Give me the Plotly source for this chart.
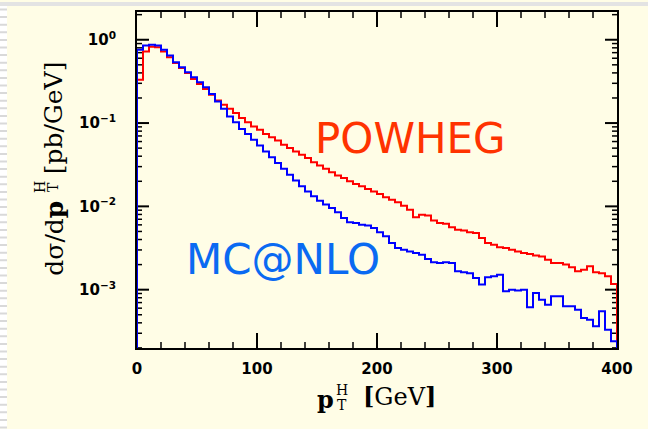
import math
import plotly.graph_objects as go

# Higgs transverse-momentum spectrum, 5 GeV bins from 0 to 400 GeV
bin_edges = [5 * i for i in range(81)]

powheg = [
    0.331, 0.724, 0.822, 0.813, 0.724, 0.617, 0.525, 0.457, 0.398, 0.339,
    0.295, 0.257, 0.219, 0.186, 0.166, 0.148, 0.132, 0.115, 0.102, 0.0912,
    0.0832, 0.0741, 0.0676, 0.0617, 0.0550, 0.0501, 0.0457, 0.0417, 0.0380, 0.0339,
    0.0309, 0.0282, 0.0257, 0.0234, 0.0219, 0.0200, 0.0186, 0.0174, 0.0162, 0.0151,
    0.0141, 0.0129, 0.0120, 0.0112, 0.0102, 0.00912, 0.00741, 0.00794, 0.00776, 0.00676,
    0.00631, 0.00617, 0.00562, 0.00525, 0.00513, 0.00490, 0.00479, 0.00417, 0.00363, 0.00347,
    0.00324, 0.00316, 0.00302, 0.00288, 0.00275, 0.00269, 0.00257, 0.00251, 0.00229, 0.00209,
    0.00209, 0.00200, 0.00186, 0.00166, 0.00174, 0.00191, 0.00162, 0.00158, 0.00145, 0.00117,
]

mcatnlo = [
    0.759, 0.851, 0.871, 0.851, 0.759, 0.646, 0.537, 0.468, 0.407, 0.355,
    0.309, 0.269, 0.224, 0.182, 0.148, 0.120, 0.102, 0.0851, 0.0741, 0.0631,
    0.0537, 0.0457, 0.0389, 0.0331, 0.0282, 0.0240, 0.0204, 0.0174, 0.0151, 0.0132,
    0.0117, 0.0105, 0.00955, 0.00851, 0.00724, 0.00646, 0.00631, 0.00603, 0.00589, 0.00550,
    0.00490, 0.00437, 0.00363, 0.00316, 0.00302, 0.00288, 0.00275, 0.00263, 0.00234, 0.00214,
    0.00209, 0.00214, 0.00209, 0.00166, 0.00162, 0.00158, 0.00138, 0.00115, 0.00141, 0.00145,
    0.00151, 0.000955, 0.00100, 0.000977, 0.00100, 0.000617, 0.000912, 0.000759, 0.000661, 0.000832,
    0.000832, 0.000631, 0.000631, 0.000575, 0.000457, 0.000437, 0.000363, 0.000550, 0.000331, 0.000240,
]

x_major = [0, 100, 200, 300, 400]
x_minor = [v for v in range(20, 400, 20) if v % 100]
y_tick_vals = [1, 0.1, 0.01, 0.001]
y_tick_text = ["10<sup>0</sup>", "10<sup>\u22121</sup>", "10<sup>\u22122</sup>", "10<sup>\u22123</sup>"]
y_minor = [m * 10 ** e for e in range(-4, 1) for m in range(2, 10)]

X_RANGE = [0, 400]
Y_RANGE = [-3.70, 0.333]   # log10 units
BG = "#fffde6"
BASE = 1e-6  # below the visible range, closes the histogram outline

# plot-area geometry (pixels)
L, R, T, B = 137, 617, 10, 348
W, H = R - L, B - T


def px(x):
    return (x - L) / W


def py(y):
    return (B - y) / H


def xfrac(v):
    return (v - X_RANGE[0]) / (X_RANGE[1] - X_RANGE[0])


def yfrac(v):
    return (math.log10(v) - Y_RANGE[0]) / (Y_RANGE[1] - Y_RANGE[0])


def step_outline(edges, values):
    xs = [edges[0]] + edges[:-1] + [edges[-1], edges[-1]]
    ys = [BASE] + values + [values[-1], BASE]
    return xs, ys


fig = go.Figure()
for vals, color in ((powheg, "#ff0000"), (mcatnlo, "#0000ff")):
    xs, ys = step_outline(bin_edges, vals)
    fig.add_trace(go.Scatter(
        x=xs, y=ys, mode="lines", line=dict(color=color, width=2, shape="hv"),
        showlegend=False, hoverinfo="skip",
    ))

# tick marks on all four sides of the frame
tick_shapes = []


def x_ticks(vals, length, width):
    for v in vals:
        f = xfrac(v)
        for y0, sgn in ((0, 1), (1, -1)):
            tick_shapes.append(dict(type="line", xref="paper", yref="paper", layer="below",
                                    x0=f, x1=f, y0=y0, y1=y0 + sgn * length / H,
                                    line=dict(color="black", width=width)))


def y_ticks(vals, length, width):
    for v in vals:
        f = yfrac(v)
        if not 0 <= f <= 1:
            continue
        for x0, sgn in ((0, 1), (1, -1)):
            tick_shapes.append(dict(type="line", xref="paper", yref="paper", layer="below",
                                    x0=x0, x1=x0 + sgn * length / W, y0=f, y1=f,
                                    line=dict(color="black", width=width)))


x_ticks(x_minor, 6, 1.5)
x_ticks(x_major[1:-1], 15, 2)
y_ticks(y_minor, 5, 1.5)
y_ticks(y_tick_vals, 12, 2)

tick_font = dict(family="DejaVu Sans", size=15, color="black", weight="bold")
serif = "DejaVu Serif"


def label(text, x, y, size, angle=0):
    return dict(text=text, x=px(x), y=py(y), xref="paper", yref="paper",
                xanchor="center", yanchor="middle", textangle=angle, showarrow=False,
                font=dict(family=serif, size=size, color="black"))


fig.update_layout(
    width=648, height=429,
    margin=dict(l=L, r=648 - R, t=T, b=429 - B),
    paper_bgcolor=BG, plot_bgcolor="rgba(0,0,0,0)",
    xaxis=dict(
        range=X_RANGE, tickmode="array", tickvals=x_major,
        ticks="", showline=True, linecolor="black", linewidth=2, mirror=True,
        tickfont=tick_font, ticklabelstandoff=6,
        showgrid=False, zeroline=False, layer="below traces",
    ),
    yaxis=dict(
        type="log", range=Y_RANGE, tickmode="array",
        tickvals=y_tick_vals, ticktext=y_tick_text,
        ticks="", showline=True, linecolor="black", linewidth=2, mirror=True,
        tickfont=tick_font, ticklabelstandoff=16,
        showgrid=False, zeroline=False, layer="below traces",
    ),
    annotations=[
        dict(text="POWHEG", x=228, y=-1.19, xref="x", yref="y", showarrow=False,
             xanchor="center", yanchor="middle",
             font=dict(family="DejaVu Sans", size=42, color="#ff3300")),
        dict(text="MC@NLO", x=122, y=-2.64, xref="x", yref="y", showarrow=False,
             xanchor="center", yanchor="middle",
             font=dict(family="DejaVu Sans", size=42, color="#0a6af2")),
        # vertical title: d sigma / d pT^H [pb/GeV]
        label("d\u03c3/d<b>p</b>", 55, 238, 25, -90),
        label("H", 40, 186, 14, -90),
        label("T", 53, 186, 14, -90),
        label("[pb/GeV]", 53, 117, 25, -90),
        # horizontal title: pT^H [GeV]
        label("<b>p</b>", 325, 400, 24),
        label("H", 342, 390, 14),
        label("T", 342, 405, 14),
        label("<b>[</b>GeV<b>]</b>", 399, 397, 24),
    ],
    shapes=[
        # page edge strips
        dict(type="rect", xref="paper", yref="paper", x0=px(0), x1=px(7),
             y0=py(429), y1=py(0), fillcolor="white", line=dict(width=0), layer="below"),
        dict(type="line", xref="paper", yref="paper", x0=px(3.5), x1=px(3.5),
             y0=py(429), y1=py(3), line=dict(color="#d9d9d9", width=7, dash="2px,5.6px"),
             layer="below"),
        dict(type="rect", xref="paper", yref="paper", x0=px(0), x1=px(648),
             y0=py(4), y1=py(0), fillcolor="#e3e3e3", line=dict(width=0), layer="below"),
    ] + tick_shapes,
)

fig.write_html("out.html")
